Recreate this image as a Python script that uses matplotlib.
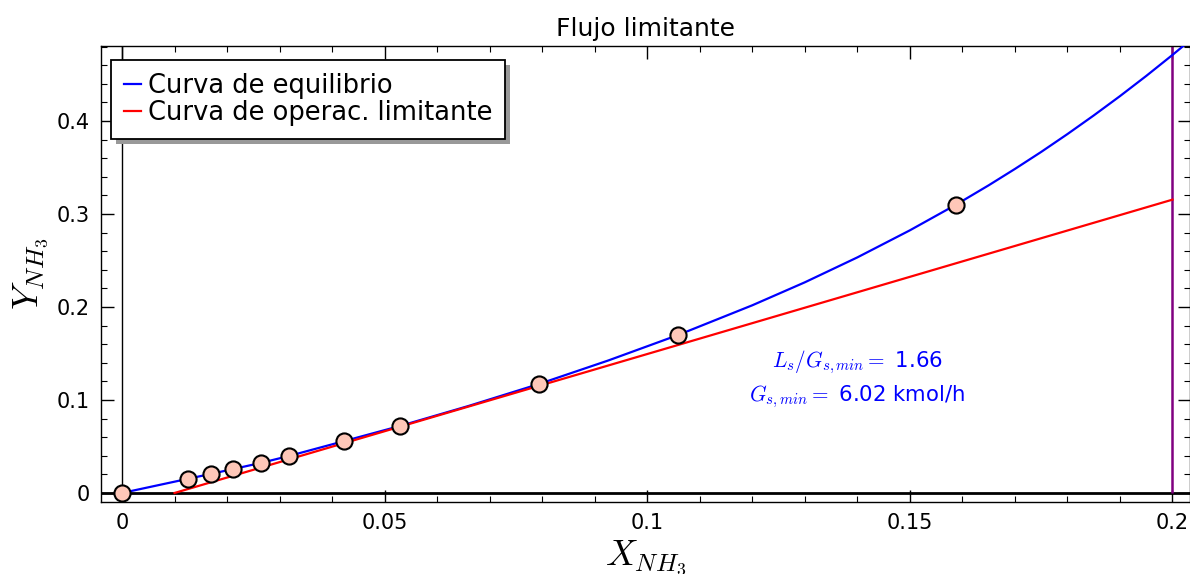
import matplotlib
matplotlib.use("Agg")
import matplotlib.pyplot as plt
from matplotlib.ticker import MultipleLocator, FuncFormatter
from matplotlib.patches import Rectangle
from matplotlib.transforms import IdentityTransform

plt.rcParams['font.family'] = ['DejaVu Sans']
plt.rcParams['mathtext.fontset'] = 'cm'

# Equilibrium data points (X, Y mole ratios of NH3)
x_data = [0.0, 0.0126, 0.0169, 0.0212, 0.0265, 0.0318, 0.0423, 0.0529, 0.0794, 0.1059, 0.1587]
y_data = [0.0, 0.0153, 0.0205, 0.0258, 0.0324, 0.0398, 0.0558, 0.0720, 0.1172, 0.1699, 0.3097]

# Equilibrium curve
x_curve = [0.0, 0.0126, 0.0169, 0.0212, 0.0265, 0.0318, 0.0423, 0.0529, 0.066, 0.0794,
           0.0926, 0.1059, 0.12, 0.13, 0.14, 0.15, 0.1587, 0.165, 0.17, 0.175, 0.18,
           0.185, 0.19, 0.195, 0.2, 0.2035]
y_curve = [0.0, 0.0153, 0.0205, 0.0258, 0.0324, 0.0398, 0.0558, 0.0720, 0.0936, 0.1172,
           0.1425, 0.1699, 0.2018, 0.2265, 0.2533, 0.2824, 0.3097, 0.3308, 0.3484, 0.3667,
           0.3859, 0.4059, 0.4267, 0.4484, 0.471, 0.4874]

# Limiting operating line
x_op = [0.01, 0.2]
y_op = [0.0, 0.3154]

x_limit = 0.2
ratio_text = "1.66"
gs_text = "6.02 kmol/h"

fig = plt.figure(figsize=(11.9, 5.74), dpi=100)
ax = fig.add_axes([101 / 1190, 72 / 574, 1088.5 / 1190, 456 / 574])

ax.set_xlim(-0.0040, 0.20324)
ax.set_ylim(-0.0097, 0.4806)

ax.axhline(0, color='black', lw=2.0, zorder=1)
ax.axvline(0, color='black', lw=1.0, zorder=1)

ax.plot(x_curve, y_curve, color='blue', lw=1.6, label='Curva de equilibrio', zorder=3)
ax.plot(x_op, y_op, color='red', lw=1.6, label='Curva de operac. limitante', zorder=3)
ax.vlines(x_limit, 0, 1, color='purple', lw=1.8, zorder=2)
ax.scatter(x_data, y_data, s=135, facecolor='#fec7b8', edgecolor='black', linewidths=1.5, zorder=5)

ax.text(0.14, 0.1347, r"$L_s/G_{s,min}=$ " + ratio_text, color='blue', fontsize=15.3,
        ha='center', va='baseline')
ax.text(0.14, 0.0989, r"$G_{s,min}=$ " + gs_text, color='blue', fontsize=15.3,
        ha='center', va='baseline')

ax.xaxis.set_major_locator(MultipleLocator(0.05))
ax.xaxis.set_minor_locator(MultipleLocator(0.01))
ax.yaxis.set_major_locator(MultipleLocator(0.1))
ax.yaxis.set_minor_locator(MultipleLocator(0.02))
fmt = FuncFormatter(lambda v, p: "%g" % round(v, 6))
ax.xaxis.set_major_formatter(fmt)
ax.yaxis.set_major_formatter(fmt)
ax.tick_params(which='both', direction='in', top=True, right=True, labelsize=15)
ax.tick_params(which='major', length=9, width=1.0, pad=8)
ax.tick_params(which='minor', length=4.5, width=0.8)
for s in ax.spines.values():
    s.set_linewidth(1.0)

ax.set_title("Flujo limitante", fontsize=18, pad=7)
ax.set_xlabel(r"$X_{NH_3}$", fontsize=26, va='top')
ax.xaxis.set_label_coords(0.5, -0.08)
ax.set_ylabel(r"$Y_{NH_3}$", fontsize=26, va='center', ha='center')
ax.yaxis.set_label_coords(-0.064, 0.5)

leg = ax.legend(loc='upper left', bbox_to_anchor=(0.0095, 0.969), borderaxespad=0,
                fontsize=18.5, fancybox=False, shadow=False, framealpha=1,
                edgecolor='black', borderpad=0.5, labelspacing=0.05,
                handlelength=0.66, handletextpad=0.25)
leg.get_frame().set_linewidth(1.3)

# legend drop shadow
fig.canvas.draw()
bb = leg.get_window_extent()
shadow = Rectangle((bb.x0 + 5, bb.y0 - 5), bb.width, bb.height, transform=IdentityTransform(),
                   facecolor='0.6', edgecolor='none', zorder=4.9, clip_on=False)
ax.add_patch(shadow)

fig.savefig("out.png", dpi=100)
